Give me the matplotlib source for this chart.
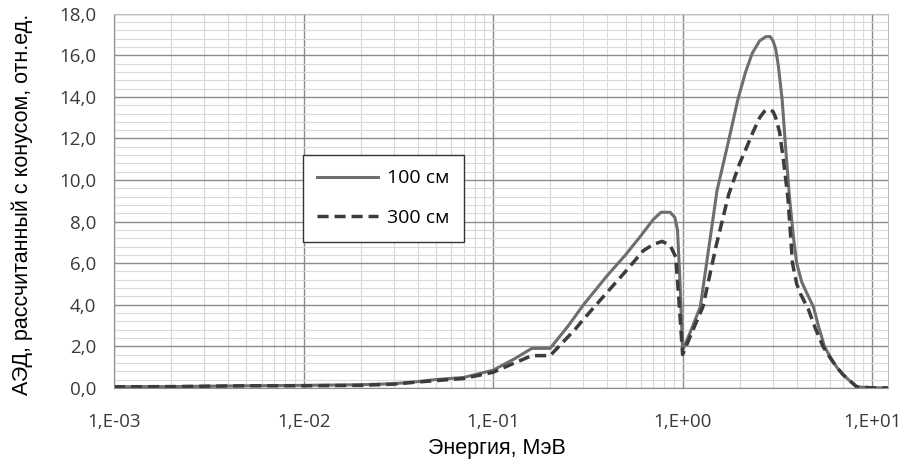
import numpy as np
import matplotlib.pyplot as plt
from matplotlib.ticker import FixedLocator, LogLocator, MultipleLocator, FuncFormatter, NullFormatter

# energy grid (MeV) and dose values
e_100 = [0.001, 0.002, 0.005, 0.01, 0.02, 0.03, 0.04, 0.05, 0.07, 0.1, 0.13, 0.16, 0.2, 0.25,
         0.3, 0.4, 0.5, 0.6, 0.7, 0.77, 0.86, 0.91, 0.94, 0.97, 1.0, 1.1, 1.24, 1.52, 1.75, 1.96,
         2.15, 2.33, 2.55, 2.75, 2.9, 3.0, 3.1, 3.2, 3.35, 3.5, 3.67, 3.85, 4.0, 4.25, 4.5, 4.9,
         5.2, 5.6, 6.0, 6.5, 7.0, 7.6, 8.3, 10.0, 12.1]
y_100 = [0.05, 0.06, 0.1, 0.12, 0.15, 0.2, 0.3, 0.4, 0.5, 0.85, 1.4, 1.9, 1.9, 3.0,
         4.0, 5.4, 6.4, 7.3, 8.1, 8.45, 8.45, 8.2, 7.6, 5.0, 1.8, 2.7, 3.9, 9.5, 11.9, 13.9,
         15.2, 16.1, 16.7, 16.9, 16.9, 16.7, 16.3, 15.5, 13.9, 11.5, 9.1, 7.2, 6.0, 5.1, 4.6, 3.9,
         3.0, 2.0, 1.5, 1.0, 0.65, 0.35, 0.05, 0.0, 0.0]

e_300 = [0.001, 0.002, 0.005, 0.01, 0.02, 0.03, 0.04, 0.05, 0.07, 0.1, 0.13, 0.16, 0.2, 0.27,
         0.3, 0.4, 0.5, 0.62, 0.7, 0.78, 0.86, 0.92, 0.96, 1.0, 1.1, 1.28, 1.5, 1.75, 2.0,
         2.16, 2.35, 2.55, 2.7, 2.84, 3.0, 3.1, 3.25, 3.4, 3.6, 3.8, 4.0, 4.2, 4.6, 5.0, 5.5,
         6.0, 6.5, 7.0, 7.5, 8.3, 10.0, 12.1]
y_300 = [0.05, 0.06, 0.1, 0.1, 0.12, 0.18, 0.28, 0.35, 0.45, 0.75, 1.2, 1.55, 1.55, 2.8,
         3.3, 4.6, 5.6, 6.6, 6.9, 7.05, 6.85, 6.3, 4.0, 1.6, 2.5, 3.9, 6.8, 9.3, 10.8,
         11.5, 12.3, 13.0, 13.3, 13.4, 13.3, 13.0, 12.3, 11.0, 9.1, 6.0, 5.0, 4.5, 3.8, 2.9, 2.0,
         1.45, 1.0, 0.65, 0.4, 0.05, 0.0, 0.0]

labels = ['100 см', '300 см']
x_ticks = [1e-3, 1e-2, 1e-1, 1e0, 1e1]
x_tick_labels = ['1,E-03', '1,E-02', '1,E-01', '1,E+00', '1,E+01']

fig = plt.figure(figsize=(9.05, 4.59), dpi=100)
ax = fig.add_axes([0.126, 0.155, 0.855, 0.815])

ax.plot(e_100, y_100, color='#6e6e6e', lw=2.2, label=labels[0])
ax.plot(e_300, y_300, color='#3c3c3c', lw=2.5, ls=(0, (3.2, 1.7)), label=labels[1])

ax.set_xscale('log')
ax.set_xlim(1e-3, 12.1)
ax.set_ylim(0, 18)

ax.xaxis.set_major_locator(FixedLocator(x_ticks))
ax.set_xticklabels(x_tick_labels)
ax.xaxis.set_minor_locator(LogLocator(base=10, subs=np.arange(2, 10)))
ax.xaxis.set_minor_formatter(NullFormatter())
ax.yaxis.set_major_locator(MultipleLocator(2))
ax.yaxis.set_minor_locator(MultipleLocator(0.4))
ax.yaxis.set_major_formatter(FuncFormatter(lambda v, p: f'{v:.1f}'.replace('.', ',')))

ax.grid(which='major', color='#8c8c8c', lw=1.0)
ax.grid(which='minor', color='#d9d9d9', lw=0.8)
ax.set_axisbelow(True)

for s in ax.spines.values():
    s.set_color('#bfbfbf')
ax.spines['left'].set_color('#8c8c8c')
ax.spines['bottom'].set_color('#8c8c8c')
ax.tick_params(which='both', length=0, labelsize=13.5, colors='#3a3a3a', pad=13)
ax.tick_params(axis='x', pad=18)
for t in ax.get_xticklabels() + ax.get_yticklabels():
    t.set_fontfamily('Open Sans')

ax.set_xlabel('Энергия, МэВ', fontsize=15.5, family='Liberation Sans')
ax.xaxis.set_label_coords(0.495, -0.135)
ax.set_ylabel('АЭД, рассчитанный с конусом, отн.ед.', fontsize=15.5,
              family='Liberation Sans')
ax.yaxis.set_label_coords(-0.105, 0.49)

leg = ax.legend(loc='upper left', bbox_to_anchor=(0.244, 0.623), borderaxespad=0,
                fancybox=False, framealpha=1, edgecolor='#333333', handlelength=3.1,
                handletextpad=0.5, labelspacing=1.12, borderpad=0.75,
                prop={'family': 'Open Sans', 'size': 14})
leg.get_frame().set_linewidth(1.0)

fig.savefig('out.png', dpi=100)
